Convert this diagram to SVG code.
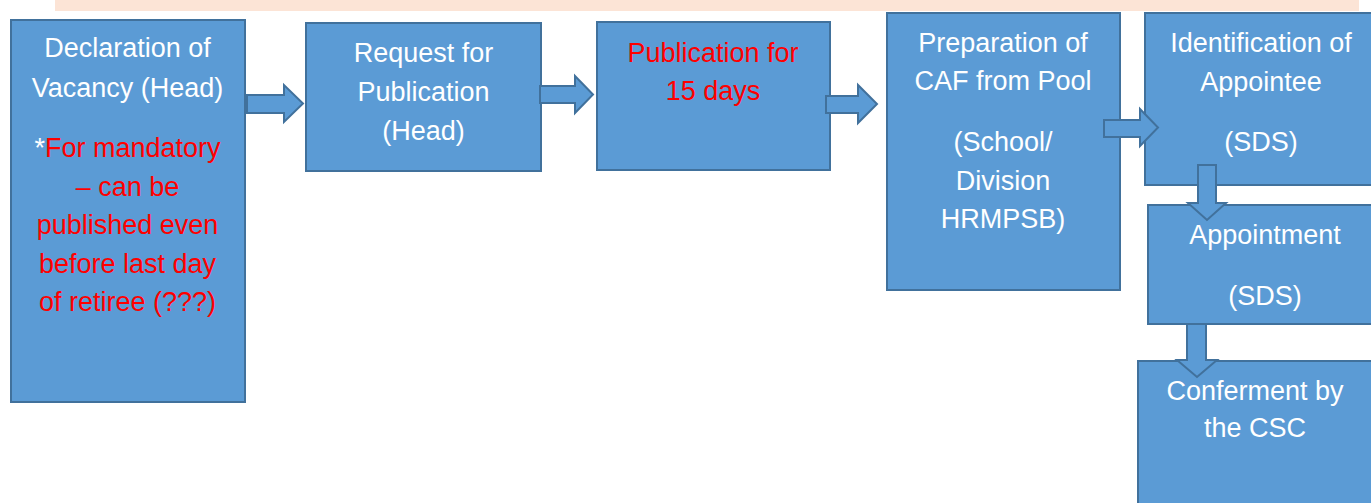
<svg xmlns="http://www.w3.org/2000/svg" width="1371" height="503" viewBox="0 0 1371 503">
<style>
.box{fill:#5B9BD5;stroke:#41719C;stroke-width:2}
.arr{fill:#5B9BD5;stroke:#41719C;stroke-width:2;stroke-linejoin:miter}
text{font-family:"Liberation Sans",Arial,sans-serif;font-size:27px;text-anchor:middle;fill:#FFFFFF}
.red{fill:#FF0000}
</style>
<rect x="55" y="0" width="1304" height="11" fill="#FCE4D6"/>
<g id="n1">
<rect class="box" x="11" y="20" width="234" height="382"/>
<text x="127.5" y="57">Declaration of</text>
<text x="127.5" y="97">Vacancy (Head)</text>
<text x="127.5" y="157">*<tspan class="red">For mandatory</tspan></text>
<text x="127.5" y="196" class="red">– can be</text>
<text x="127.5" y="234" class="red">published even</text>
<text x="127.5" y="273" class="red">before last day</text>
<text x="127.5" y="311" class="red">of retiree (???)</text>
</g>
<g id="n2">
<rect class="box" x="306" y="23" width="235" height="148"/>
<text x="423.5" y="62">Request for</text>
<text x="423.5" y="101">Publication</text>
<text x="423.5" y="140">(Head)</text>
</g>
<g id="n3">
<rect class="box" x="597" y="22" width="233" height="148"/>
<text x="713" y="62" class="red">Publication for</text>
<text x="713" y="100" class="red">15 days</text>
</g>
<g id="n4">
<rect class="box" x="887" y="13" width="233" height="277"/>
<text x="1003" y="52">Preparation of</text>
<text x="1003" y="90">CAF from Pool</text>
<text x="1003" y="151">(School/</text>
<text x="1003" y="190">Division</text>
<text x="1003" y="228">HRMPSB)</text>
</g>
<g id="n5">
<rect class="box" x="1145" y="13" width="240" height="172"/>
<text x="1261" y="52">Identification of</text>
<text x="1261" y="91">Appointee</text>
<text x="1261" y="151">(SDS)</text>
</g>
<g id="n6">
<rect class="box" x="1148" y="205" width="240" height="119"/>
<text x="1265" y="244">Appointment</text>
<text x="1265" y="305">(SDS)</text>
</g>
<g id="n7">
<rect class="box" x="1138" y="361" width="250" height="160"/>
<text x="1255" y="400">Conferment by</text>
<text x="1255" y="437">the CSC</text>
</g>
<g id="connectors">
<polygon class="arr" points="247,95 284,95 284,85 303,103.5 284,122 284,113 247,113"/>
<polygon class="arr" points="540,86 575,86 575,76 593,94.5 575,113 575,103 540,103"/>
<polygon class="arr" points="826,96 858,96 858,85 877,104 858,123 858,113 826,113"/>
<polygon class="arr" points="1104,120 1140,120 1140,109 1158,127.5 1140,146 1140,137 1104,137"/>
<polygon class="arr" points="1198,165 1216,165 1216,203 1226,203 1207,220 1188,203 1198,203"/>
<polygon class="arr" points="1187,324 1206,324 1206,360 1217,360 1197,377 1177,360 1187,360"/>
</g>
</svg>
